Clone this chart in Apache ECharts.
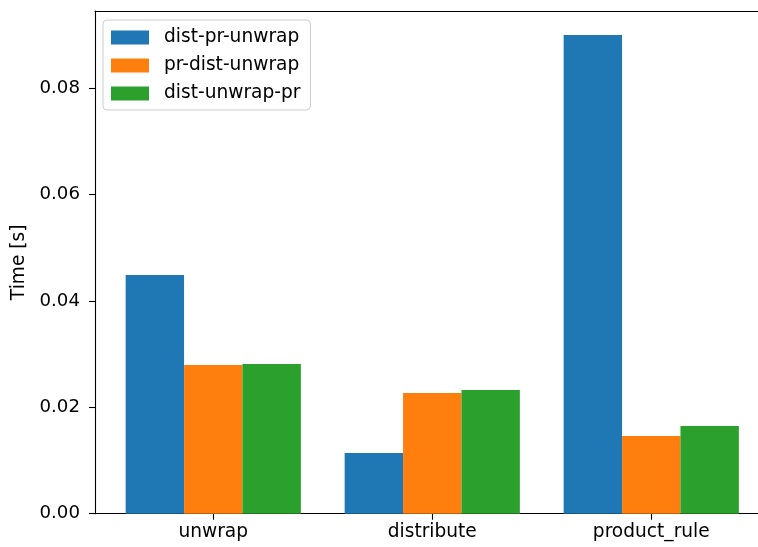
<!DOCTYPE html>
<html>
<head>
<meta charset="utf-8">
<script src="https://cdn.jsdelivr.net/npm/echarts@6/dist/echarts.min.js"></script>
<style>
html,body{margin:0;padding:0;background:#fff;}
#chart{width:758px;height:547px;}
</style>
</head>
<body>
<div id="chart"></div>
<script>
const categories = ['unwrap', 'distribute', 'product_rule'];
const seriesNames = ['dist-pr-unwrap', 'pr-dist-unwrap', 'dist-unwrap-pr'];
const distPrUnwrap = [0.04485, 0.01141, 0.08995];
const prDistUnwrap = [0.02794, 0.02268, 0.01460];
const distUnwrapPr = [0.02813, 0.02324, 0.01648];
const yTicks = [0, 0.02, 0.04, 0.06, 0.08];
const colors = ['#1f77b4', '#ff7f0e', '#2ca02c'];

const FONT = 'DejaVu Sans';
const FS = 18.6;
const allValues = [distPrUnwrap, prDistUnwrap, distUnwrapPr];
const positions = categories.map((c, i) => i);

const chart = echarts.init(document.getElementById('chart'), null, {renderer: 'canvas'});
chart.setOption({
  animation: false,
  color: colors,
  grid: {left: 95, right: 0, top: 11, bottom: 33.3, containLabel: false},
  legend: {
    orient: 'vertical', left: 103, top: 20,
    padding: [8, 10, 7, 8],
    itemWidth: 38, itemHeight: 14, itemGap: 9,
    icon: 'rect',
    borderColor: '#cccccc', borderWidth: 1, borderRadius: 4,
    backgroundColor: 'rgba(255,255,255,0.8)',
    textStyle: {fontFamily: FONT, fontSize: FS, color: '#000', padding: [0, 0, 0, 10]},
    data: seriesNames
  },
  xAxis: [{
    type: 'value', min: -0.54, max: 2.4874,
    axisLine: {show: true, onZero: false, lineStyle: {color: '#000', width: 1.1}},
    axisTick: {show: true, customValues: positions, length: 6, lineStyle: {color: '#000', width: 1.1}},
    axisLabel: {show: true, customValues: positions, margin: 9, fontFamily: FONT, fontSize: FS, color: '#000',
      formatter: v => categories[Math.round(v)]},
    splitLine: {show: false}
  }, {
    type: 'value', position: 'top', min: -0.54, max: 2.4874,
    axisLine: {show: true, onZero: false, lineStyle: {color: '#000', width: 1.1}},
    axisTick: {show: false}, axisLabel: {show: false}, splitLine: {show: false}
  }],
  yAxis: {
    type: 'value', min: 0, max: 0.09445, interval: 0.02,
    name: 'Time [s]', nameLocation: 'middle', nameGap: 61,
    nameTextStyle: {fontFamily: FONT, fontSize: FS, color: '#000'},
    axisLine: {show: true, onZero: false, lineStyle: {color: '#000', width: 1.1}},
    axisTick: {show: true, length: 6, lineStyle: {color: '#000', width: 1.1}},
    axisLabel: {margin: 15, fontFamily: FONT, fontSize: 18.2, color: '#000',
      formatter: v => v.toFixed(2), showMaxLabel: false},
    splitLine: {show: false}
  },
  series: seriesNames.map((name, s) => ({
    name: name, type: 'bar', xAxisIndex: 0,
    barGap: '0%', barCategoryGap: '20%',
    itemStyle: {color: colors[s], borderWidth: 0},
    data: positions.map((p, i) => [p, allValues[s][i]])
  }))
});
</script>
</body>
</html>
